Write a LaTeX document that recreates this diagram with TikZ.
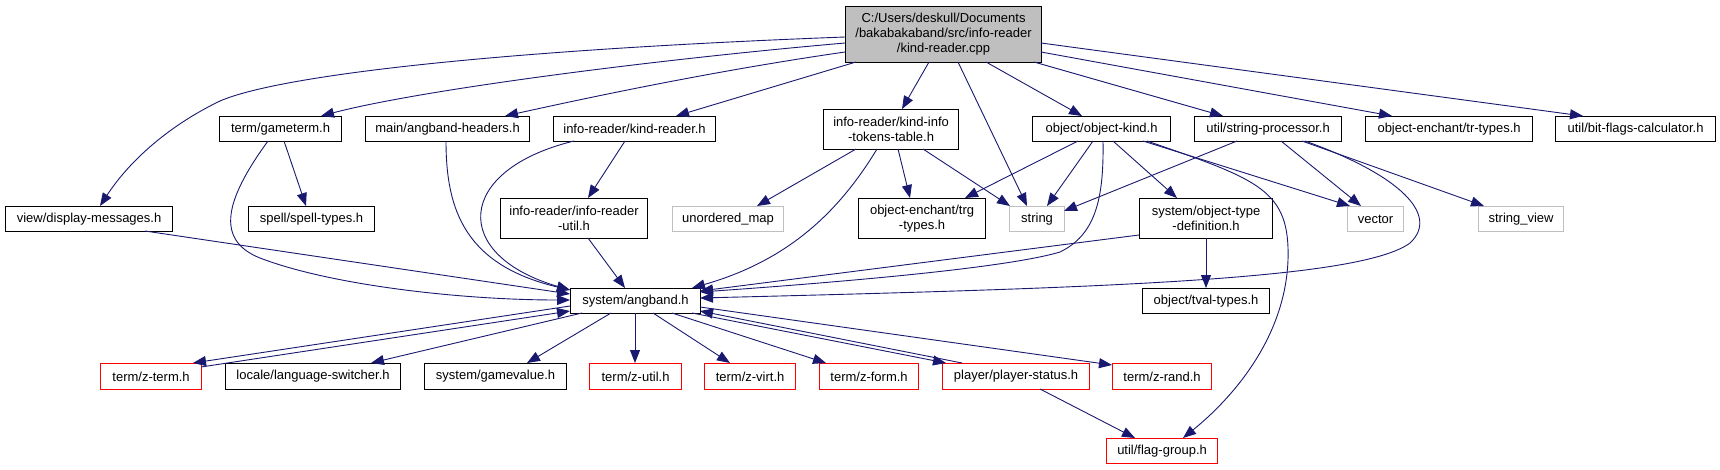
\documentclass[tikz,border=0pt]{standalone}
\usepackage{fontspec}
\setmainfont{Liberation Sans}
\usetikzlibrary{arrows.meta,calc}
\definecolor{edgec}{RGB}{25,25,112}
\definecolor{extc}{RGB}{191,191,191}
\begin{document}
\begin{tikzpicture}[x=1pt,y=-1pt,
  every node/.style={font=\fontsize{13}{15}\selectfont},
  nb/.style={draw=black, fill=white, line width=1.1pt, inner sep=0pt, anchor=north west, align=center, minimum height=25pt},
  rb/.style={nb, draw=red},
  gb/.style={nb, draw=extc},
  nb2/.style={nb, minimum height=40pt},
  topb/.style={nb, fill=extc, minimum height=56pt},
  edge/.style={draw=edgec, line width=0.9pt, -{Triangle[length=13pt,width=10pt]}}
]
\fill[white] (0,0) rectangle (1720,469);
\useasboundingbox (0,0) rectangle (1720,469);

% nodes
\node[topb, minimum width=196pt] (cpp) at (845,6) {C:/Users/deskull/Documents\\/bakabakaband/src/info-reader\\/kind-reader.cpp};
\node[nb, minimum width=122pt] (gameterm) at (219,116) {term/gameterm.h};
\node[nb, minimum width=164pt] (angheaders) at (365,116) {main/angband-headers.h};
\node[nb, minimum width=162pt] (kindreaderh) at (553,116) {info-reader/kind-reader.h};
\node[nb2, minimum width=135pt] (kindinfo) at (823,109) {info-reader/kind-info\\-tokens-table.h};
\node[nb, minimum width=138pt] (objectkind) at (1032,116) {object/object-kind.h};
\node[nb, minimum width=147pt] (strproc) at (1194,116) {util/string-processor.h};
\node[nb, minimum width=167pt] (trtypes) at (1365,116) {object-enchant/tr-types.h};
\node[nb, minimum width=160pt] (bitflags) at (1555,116) {util/bit-flags-calculator.h};

\node[nb, minimum width=167pt] (dispmsg) at (5,206) {view/display-messages.h};
\node[nb, minimum width=126pt] (spelltypes) at (248,206) {spell/spell-types.h};
\node[nb2, minimum width=147pt] (irutil) at (500,198) {info-reader/info-reader\\-util.h};
\node[gb, minimum width=111pt] (umap) at (672,206) {unordered\_map};
\node[nb2, minimum width=127pt] (trg) at (858,198) {object-enchant/trg\\-types.h};
\node[gb, minimum width=55pt] (string) at (1009,206) {string};
\node[nb2, minimum width=133pt] (otd) at (1139,198) {system/object-type\\-definition.h};
\node[gb, minimum width=56pt] (vector) at (1347,206) {vector};
\node[gb, minimum width=85pt] (strview) at (1478,206) {string\_view};

\node[nb, minimum width=130pt] (angband) at (570,288) {system/angband.h};
\node[nb, minimum width=127pt] (tval) at (1142,288) {object/tval-types.h};

\node[rb, minimum width=101pt, minimum height=26pt] (zterm) at (100,363) {term/z-term.h};
\node[nb, minimum width=175pt, minimum height=26pt] (langsw) at (225,363) {locale/language-switcher.h};
\node[nb, minimum width=142pt, minimum height=26pt] (gamevalue) at (424,363) {system/gamevalue.h};
\node[rb, minimum width=92pt, minimum height=26pt] (zutil) at (589,363) {term/z-util.h};
\node[rb, minimum width=91pt, minimum height=26pt] (zvirt) at (704,363) {term/z-virt.h};
\node[rb, minimum width=99pt, minimum height=26pt] (zform) at (819,363) {term/z-form.h};
\node[rb, minimum width=147pt, minimum height=26pt] (pstatus) at (942,363) {player/player-status.h};
\node[rb, minimum width=99pt, minimum height=26pt] (zrand) at (1112,363) {term/z-rand.h};

\node[rb, minimum width=111pt] (flaggroup) at (1106,438) {util/flag-group.h};

% edges from cpp
\draw[edge] ($(cpp.north west)+(0,31)$) .. controls (500,50) and (280,75) .. (220,101) .. controls (170,125) and (130,160) .. ($(dispmsg.north west)+(95,0)$);
\draw[edge] ($(cpp.north west)+(0,37)$) .. controls (650,60) and (420,90) .. ($(gameterm.north west)+(102,0)$);
\draw[edge] ($(cpp.north west)+(0,46)$) .. controls (720,70) and (600,95) .. ($(angheaders.north west)+(140,0)$);
\draw[edge] ($(cpp.north west)+(11,56)$) -- ($(kindreaderh.north west)+(123,0)$);
\draw[edge] ($(cpp.north west)+(84,56)$) -- ($(kindinfo.north west)+(79,0)$);
\draw[edge] ($(cpp.north west)+(113,56)$) -- ($(string.north west)+(18,0)$);
\draw[edge] ($(cpp.north west)+(141,56)$) -- ($(objectkind.north west)+(50,0)$);
\draw[edge] ($(cpp.north west)+(189,56)$) -- ($(strproc.north west)+(29,0)$);
\draw[edge] ($(cpp.north west)+(196,46)$) -- ($(trtypes.north west)+(27,0)$);
\draw[edge] ($(cpp.north west)+(196,37)$) -- ($(bitflags.north west)+(28,0)$);

% gameterm
\draw[edge] ($(gameterm.north west)+(65,25)$) -- ($(spelltypes.north west)+(58,0)$);
\draw[edge] ($(gameterm.north west)+(49,25)$) .. controls (225,200) and (215,240) .. (260,258) .. controls (330,285) and (460,300) .. ($(angband.north west)+(0,12)$);
% dispmsg
\draw[edge] ($(dispmsg.north west)+(140,25)$) -- ($(angband.north west)+(0,6)$);
% angheaders
\draw[edge] ($(angheaders.north west)+(81,25)$) .. controls (446,210) and (465,265) .. ($(angband.north west)+(0,2)$);
% kindreaderh
\draw[edge] ($(kindreaderh.north west)+(72,25)$) -- ($(irutil.north west)+(88,0)$);
\draw[edge] ($(kindreaderh.north west)+(21,25)$) .. controls (455,170) and (450,255) .. ($(angband.north west)+(0,2)$);
% irutil
\draw[edge] ($(irutil.north west)+(88,40)$) -- ($(angband.north west)+(55,0)$);
% kindinfo
\draw[edge] ($(kindinfo.north west)+(33,40)$) -- ($(umap.north west)+(85,0)$);
\draw[edge] ($(kindinfo.north west)+(54,40)$) .. controls (840,210) and (790,260) .. ($(angband.north west)+(122,0)$);
\draw[edge] ($(kindinfo.north west)+(75,40)$) -- ($(trg.north west)+(52,0)$);
\draw[edge] ($(kindinfo.north west)+(100,40)$) -- ($(string.north west)+(1,0)$);
% objectkind
\draw[edge] ($(objectkind.north west)+(46,25)$) -- ($(trg.north west)+(107,0)$);
\draw[edge] ($(objectkind.north west)+(61,25)$) -- ($(string.north west)+(38,0)$);
\draw[edge] ($(objectkind.north west)+(71,25)$) .. controls (1104,200) and (1095,235) .. (1060,252) .. controls (1000,270) and (800,285) .. ($(angband.north west)+(130,4)$);
\draw[edge] ($(objectkind.north west)+(81,25)$) -- ($(otd.north west)+(38,0)$);
\draw[edge] ($(objectkind.north west)+(111,25)$) -- ($(vector.north west)+(3,0)$);
\draw[edge] ($(objectkind.north west)+(115,25)$) .. controls (1260,180) and (1290,190) .. (1288,260) .. controls (1285,340) and (1230,400) .. ($(flaggroup.north west)+(77,0)$);
% strproc
\draw[edge] ($(strproc.north west)+(43,25)$) -- ($(string.north west)+(55,5)$);
\draw[edge] ($(strproc.north west)+(87,25)$) -- ($(vector.north west)+(14,0)$);
\draw[edge] ($(strproc.north west)+(108,25)$) -- ($(strview.north west)+(6,0)$);
\draw[edge] ($(strproc.north west)+(111,25)$) .. controls (1400,175) and (1440,215) .. (1410,243) .. controls (1360,280) and (1100,288) .. ($(angband.north west)+(130,10)$);
% otd
\draw[edge] ($(otd.north west)+(0,37)$) -- ($(angband.north west)+(130,3)$);
\draw[edge] ($(otd.north west)+(67,40)$) -- ($(tval.north west)+(64,0)$);
% angband out
\draw[edge] ($(angband.north west)+(0,18)$) -- ($(zterm.north west)+(93,0)$);
\draw[edge] ($(zterm.north west)+(101,4)$) -- ($(angband.north west)+(0,23)$);
\draw[edge] ($(angband.north west)+(12,25)$) -- ($(langsw.north west)+(146,0)$);
\draw[edge] ($(angband.north west)+(41,25)$) -- ($(gamevalue.north west)+(103,0)$);
\draw[edge] ($(angband.north west)+(65,25)$) -- ($(zutil.north west)+(46,0)$);
\draw[edge] ($(angband.north west)+(83,25)$) -- ($(zvirt.north west)+(26,0)$);
\draw[edge] ($(angband.north west)+(102,25)$) -- ($(zform.north west)+(7,0)$);
\draw[edge] ($(angband.north west)+(122,25)$) -- ($(pstatus.north west)+(4,0)$);
\draw[edge] ($(pstatus.north west)+(20,0)$) -- ($(angband.north west)+(130,23)$);
\draw[edge] ($(angband.north west)+(130,19)$) -- ($(zrand.north west)+(0,2)$);
% pstatus
\draw[edge] ($(pstatus.north west)+(98,26)$) -- ($(flaggroup.north west)+(29,0)$);
\end{tikzpicture}
\end{document}
